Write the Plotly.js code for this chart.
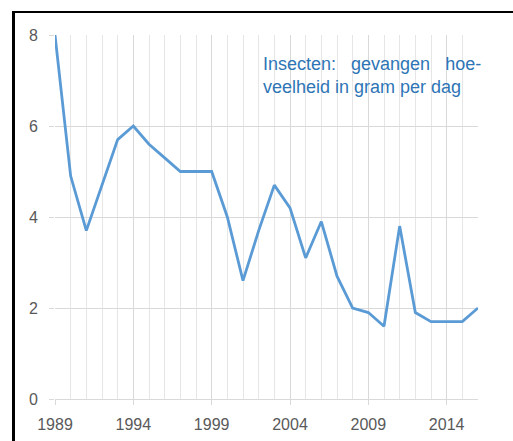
<!DOCTYPE html>
<html>
<head>
<meta charset="utf-8">
<script src="https://cdn.plot.ly/plotly-3.0.1.min.js"></script>
<style>
html,body{margin:0;padding:0;background:#fff;}
#wrap{position:relative;width:513px;height:441px;overflow:hidden;}
#chart{position:absolute;left:0;top:0;width:513px;height:441px;}
#frame{position:absolute;left:12px;top:11px;width:600px;height:600px;border-left:3px solid #000;border-top:2.5px solid #000;pointer-events:none;}
</style>
</head>
<body>
<div id="wrap"><div id="chart"></div><div id="frame"></div></div>
<script>
const years = [1989,1990,1991,1992,1993,1994,1995,1996,1997,1998,1999,2000,2001,2002,2003,2004,2005,2006,2007,2008,2009,2010,2011,2012,2013,2014,2015,2016];
const insects = [8.0,4.9,3.7,4.7,5.7,6.0,5.6,5.3,5.0,5.0,5.0,4.0,2.6,3.7,4.7,4.2,3.1,3.9,2.7,2.0,1.9,1.6,3.8,1.9,1.7,1.7,1.7,2.0];
const yTicks = [0,2,4,6,8];
const xTicks = [1989,1994,1999,2004,2009,2014];
const labelText = "Insecten:&nbsp;&nbsp;&nbsp;gevangen&nbsp;&nbsp;&nbsp;hoe-<br>veelheid in gram per dag";

const tickFont = {family: "Liberation Sans, Arial, sans-serif", size: 16, color: "#595959"};

Plotly.newPlot("chart", [{
  x: years, y: insects, type: "scatter", mode: "lines",
  line: {color: "#5B9BD5", width: 2.8},
  hoverinfo: "skip"
}], {
  width: 513, height: 441,
  margin: {l: 55, r: 35, t: 35, b: 42},
  paper_bgcolor: "#fff", plot_bgcolor: "#fff",
  showlegend: false,
  xaxis: {
    range: [1989, 2016], tickmode: "array", tickvals: xTicks, ticktext: xTicks.map(String),
    ticks: "outside", ticklen: 5, tickcolor: "#D9D9D9", tickwidth: 1,
    showgrid: true, gridcolor: "#D9D9D9", gridwidth: 1,
    minor: {dtick: 1, tick0: 1989, showgrid: true, gridcolor: "#E6E6E6", gridwidth: 1, ticks: ""},
    showline: true, linecolor: "#D9D9D9", linewidth: 1,
    zeroline: false, tickfont: tickFont, fixedrange: true,
    ticklabelstandoff: 6
  },
  yaxis: {
    range: [0, 8], tickmode: "array", tickvals: yTicks, ticktext: yTicks.map(String),
    ticks: "outside", ticklen: 5, tickcolor: "#D9D9D9", tickwidth: 1,
    showgrid: true, gridcolor: "#D9D9D9", gridwidth: 1,
    showline: false, zeroline: false, tickfont: tickFont, fixedrange: true,
    ticklabelstandoff: 8
  },
  shapes: [{
    type: "rect", xref: "paper", yref: "paper", layer: "between",
    x0: 0.449, x1: 1.0, y0: 0.799, y1: 0.981,
    fillcolor: "#fff", line: {width: 0}
  }],
  annotations: [{
    xref: "paper", yref: "paper", x: 0.488, y: 0.889, xanchor: "left", yanchor: "middle",
    text: labelText, showarrow: false, align: "left",
    font: {family: "Liberation Sans, Arial, sans-serif", size: 18, color: "#2E75B6"}
  }]
}, {staticPlot: true, displayModeBar: false});
</script>
</body>
</html>
